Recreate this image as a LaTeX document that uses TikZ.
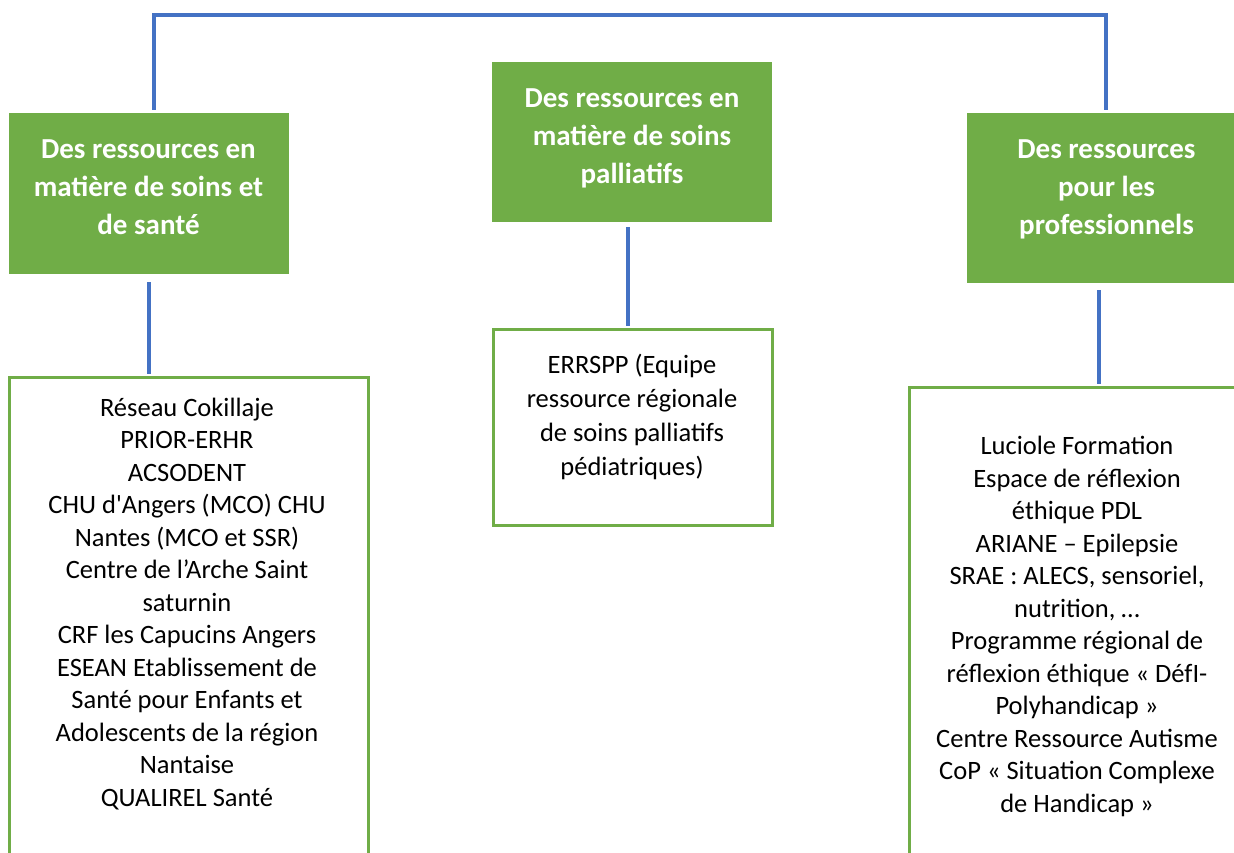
\documentclass[tikz,border=0pt]{standalone}
\usepackage{fontspec}
\setmainfont{Carlito}[Ligatures=TeXOff]
\definecolor{boxgreen}{HTML}{70AD47}
\definecolor{linkblue}{HTML}{4472C4}
\tikzset{
  headbox/.style={fill=boxgreen, draw=none, inner sep=0pt, minimum width=280pt},
  listbox/.style={draw=boxgreen, line width=3pt, fill=white, inner sep=0pt},
  headtext/.style={text=white, font=\fontsize{29}{38}\selectfont\bfseries, align=center, inner sep=0pt, anchor=base},
  listtext/.style={text=black, font=\fontsize{26.5}{32.5}\selectfont, align=center, inner sep=0pt, anchor=base},
  link/.style={draw=linkblue, line width=4pt}
}
\begin{document}
\begin{tikzpicture}[x=1pt,y=-1pt]
\useasboundingbox (0,0) rectangle (1234,853);
\clip (0,0) rectangle (1234,853);
% green header boxes
\node[headbox, minimum height=161pt] (Lg) at (149,193.5) {};
\node[headbox, minimum height=160pt] (Cg) at (632,142) {};
\node[headbox, minimum height=170pt] (Rg) at (1107,198) {};
% list boxes
\node[listbox, minimum width=359pt, minimum height=560pt] (Lw) at (188.5,657) {};
\node[listbox, minimum width=279pt, minimum height=196pt] (Cw) at (632.5,427) {};
\node[listbox, minimum width=336pt, minimum height=560pt] (Rw) at (1077,667) {};
% header texts (anchor = baseline of last line)
\node[headtext] (Lgt) at (148.5,235) {Des ressources en\\matière de soins et\\de santé};
\node[headtext] (Cgt) at (632,184) {Des ressources en\\matière de soins\\palliatifs};
\node[headtext] (Rgt) at (1106.5,235) {Des ressources\\pour les\\professionnels};
% list texts
\node[listtext] (Lwt) at (187,806) {Réseau Cokillaje\\PRIOR-ERHR\\ACSODENT\\CHU d'Angers (MCO) CHU\\Nantes (MCO et SSR)\\Centre de l’Arche Saint\\saturnin\\CRF les Capucins Angers\\ESEAN Etablissement de\\Santé pour Enfants et\\Adolescents de la région\\Nantaise\\QUALIREL Santé};
\node[listtext, font=\fontsize{26.5}{34}\selectfont] (Cwt) at (632,475) {ERRSPP (Equipe\\ressource régionale\\de soins palliatifs\\pédiatriques)};
\node[listtext] (Rwt) at (1077,812) {Luciole Formation\\Espace de réflexion\\éthique PDL\\ARIANE – Epilepsie\\SRAE : ALECS, sensoriel,\\nutrition, …\\Programme régional de\\réflexion éthique « DéfI-\\Polyhandicap »\\Centre Ressource Autisme\\CoP « Situation Complexe\\de Handicap »};
% connectors
\coordinate (topR) at (1106,15);
\draw[link] ([xshift=5pt,yshift=3pt]Lg.north) |- (topR) -- ([yshift=3pt]Rg.north -| topR);
\draw[link] ([yshift=-8pt]Lg.south) -- ([yshift=2pt]Lw.north -| Lg.south);
\draw[link] ([xshift=-4pt,yshift=-5pt]Cg.south) -- ([xshift=-4pt,yshift=2pt]Cg.south |- Cw.north);
\draw[link] ([xshift=-8pt,yshift=-7pt]Rg.south) -- ([xshift=-8pt,yshift=2pt]Rg.south |- Rw.north);
\end{tikzpicture}
\end{document}
